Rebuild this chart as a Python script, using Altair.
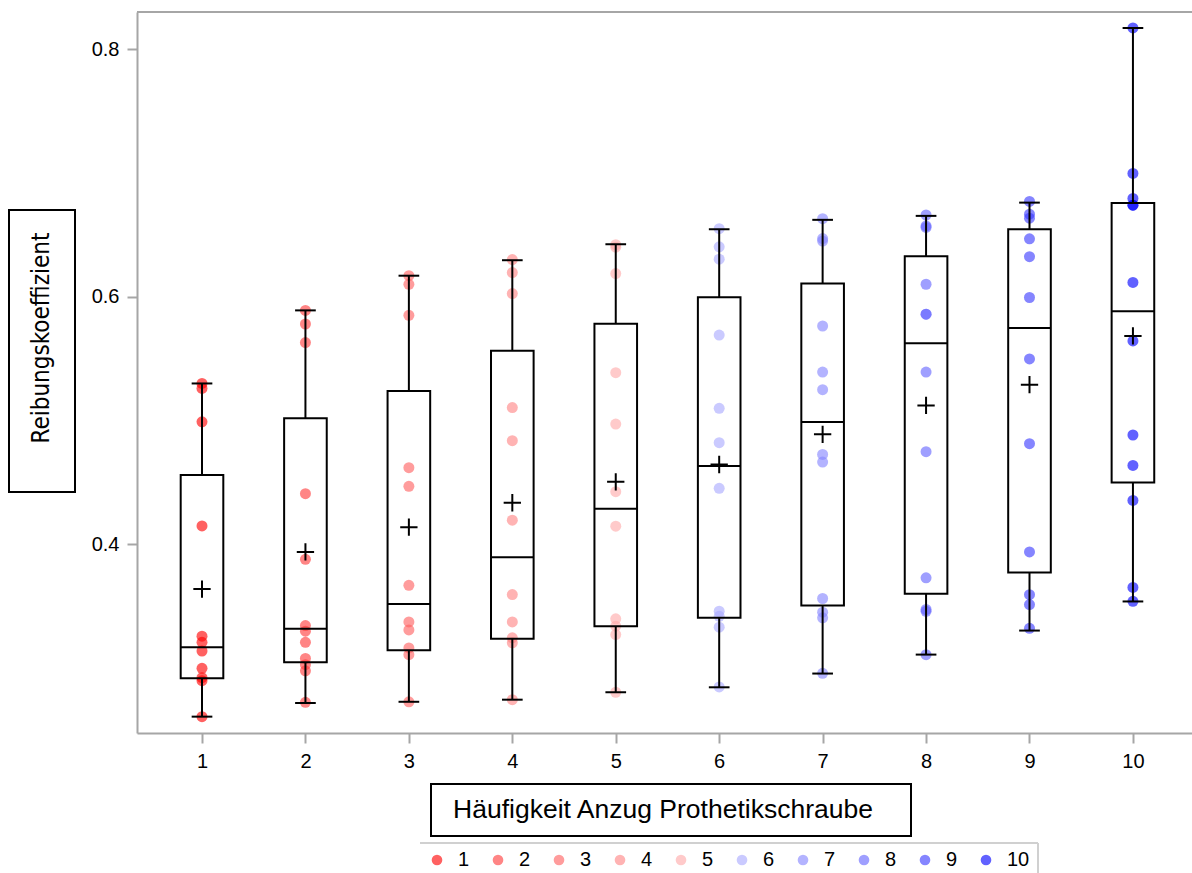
import altair as alt
import pandas as pd

# ---- data ----
groups = ["1", "2", "3", "4", "5", "6", "7", "8", "9", "10"]
colors = ["#ff0000", "#ff3a3a", "#ff5f5f", "#ff8484", "#ffaaaa",
          "#aaaaff", "#8484ff", "#6464ff", "#3a3aff", "#0000ff"]

g1 = [0.530, 0.526, 0.499, 0.415, 0.326, 0.321, 0.314, 0.300, 0.2925, 0.290, 0.261]
g2 = [0.589, 0.578, 0.563, 0.441, 0.388, 0.3345, 0.330, 0.321, 0.308, 0.303, 0.298, 0.2726]
g3 = [0.617, 0.610, 0.585, 0.462, 0.447, 0.367, 0.3375, 0.331, 0.3165, 0.311, 0.273]
g4 = [0.630, 0.6195, 0.6026, 0.5105, 0.4838, 0.4196, 0.3596, 0.3375, 0.3246, 0.3206, 0.2747]
g5 = [0.642, 0.640, 0.6187, 0.5387, 0.4972, 0.4426, 0.4148, 0.340, 0.334, 0.3273, 0.2807]
g6 = [0.655, 0.6403, 0.6303, 0.5691, 0.5099, 0.4822, 0.4453, 0.3461, 0.342, 0.3332, 0.285]
g7 = [0.663, 0.647, 0.645, 0.5764, 0.5392, 0.525, 0.4727, 0.4665, 0.3564, 0.3453, 0.3408, 0.296]
g8 = [0.666, 0.6572, 0.656, 0.6101, 0.5859, 0.5859, 0.5392, 0.4749, 0.3731, 0.3475, 0.346, 0.311]
g9 = [0.677, 0.6667, 0.6634, 0.6468, 0.6324, 0.5994, 0.5498, 0.4814, 0.394, 0.3595, 0.3515, 0.3323]
g10 = [0.817, 0.6996, 0.6794, 0.6739, 0.6739, 0.6116, 0.5643, 0.4884, 0.4638, 0.4356, 0.3653, 0.3541]
series = [g1, g2, g3, g4, g5, g6, g7, g8, g9, g10]

q1 = [0.292, 0.305, 0.3146, 0.3238, 0.334, 0.3408, 0.3507, 0.3602, 0.3774, 0.450]
med = [0.317, 0.332, 0.352, 0.3897, 0.4288, 0.4633, 0.4988, 0.5624, 0.5748, 0.5883]
q3 = [0.456, 0.502, 0.524, 0.5565, 0.5783, 0.5996, 0.6107, 0.6327, 0.6545, 0.6756]
lo = [0.261, 0.272, 0.273, 0.2747, 0.2807, 0.2847, 0.2958, 0.3111, 0.3305, 0.354]
hi = [0.530, 0.589, 0.617, 0.6295, 0.6424, 0.6545, 0.6621, 0.6653, 0.676, 0.817]
mean = [0.364, 0.394, 0.414, 0.4337, 0.4506, 0.4646, 0.4889, 0.5123, 0.529, 0.5684]

x_title = "Häufigkeit Anzug Prothetikschraube"
y_title = "Reibungskoeffizient"

# ---- tables ----
pts = pd.DataFrame(
    [{"g": i + 1, "Gruppe": groups[i], "v": v} for i, s in enumerate(series) for v in s]
)
BW = 0.206
CW = 0.1
stats = pd.DataFrame({
    "g": list(range(1, 11)), "q1": q1, "med": med, "q3": q3,
    "lo": lo, "hi": hi, "mean": mean,
})
stats["xl"] = stats["g"] - BW
stats["xr"] = stats["g"] + BW
stats["cl"] = stats["g"] - CW
stats["cr"] = stats["g"] + CW

W, H = 1055, 721
xs = alt.Scale(domain=[0.3716, 10.571], nice=False, zero=False)
ys = alt.Scale(domain=[0.2478, 0.8299], nice=False, zero=False)
GRAY = "#a6a6a6"
FONT = "Liberation Sans, Arial, sans-serif"

xaxis = alt.Axis(values=list(range(1, 11)), format="d", title=None, grid=False,
                 labelFontSize=20, labelFont=FONT, labelColor="black",
                 tickSize=10, tickColor=GRAY, tickWidth=2, domainColor=GRAY,
                 domainWidth=2, labelPadding=8, labelFlush=False)
yaxis = alt.Axis(values=[0.4, 0.6, 0.8], format=".1f", title=None, grid=False,
                 labelFontSize=20, labelFont=FONT, labelColor="black",
                 tickSize=10, tickColor=GRAY, tickWidth=2, domainColor=GRAY,
                 domainWidth=2, labelPadding=8, labelFlush=False)


def X(f):
    return alt.X(f, scale=xs, axis=xaxis)


def Y(f):
    return alt.Y(f, scale=ys, axis=yaxis)


points = alt.Chart(pts).mark_circle(size=121, opacity=0.62).encode(
    x=X("g:Q"),
    y=Y("v:Q"),
    color=alt.Color("Gruppe:N", sort=groups,
                    scale=alt.Scale(domain=groups, range=colors),
                    legend=alt.Legend(title=None, orient="none", direction="horizontal",
                                      columns=10, legendX=290, legendY=838,
                                      symbolType="circle", symbolSize=114,
                                      symbolOpacity=0.62, symbolStrokeWidth=0,
                                      labelFontSize=20, labelFont=FONT,
                                      labelColor="black", labelOffset=11,
                                      columnPadding=18, padding=0)),
)

base = alt.Chart(stats)
whisk_lo = base.mark_rule(color="black", strokeWidth=2).encode(
    x=X("g:Q"), y=Y("lo:Q"), y2="q1:Q")
whisk_hi = base.mark_rule(color="black", strokeWidth=2).encode(
    x=X("g:Q"), y=Y("q3:Q"), y2="hi:Q")
cap_lo = base.mark_rule(color="black", strokeWidth=2).encode(
    x=X("cl:Q"), x2="cr:Q", y=Y("lo:Q"))
cap_hi = base.mark_rule(color="black", strokeWidth=2).encode(
    x=X("cl:Q"), x2="cr:Q", y=Y("hi:Q"))
box = base.mark_rect(fill="white", fillOpacity=0, stroke="black", strokeWidth=2).encode(
    x=X("xl:Q"), x2="xr:Q", y=Y("q1:Q"), y2="q3:Q")
median = base.mark_rule(color="black", strokeWidth=2).encode(
    x=X("xl:Q"), x2="xr:Q", y=Y("med:Q"))
mean_mk = base.mark_point(shape="M-1,0L1,0M0,-1L0,1", size=300, filled=False,
                          stroke="black", strokeWidth=2, opacity=1).encode(
    x=X("g:Q"), y=Y("mean:Q"))

one = alt.Data(values=[{"a": 1}])
top_border = alt.Chart(one).mark_rule(color=GRAY, strokeWidth=2).encode(
    x=alt.value(0), x2=alt.value(W), y=alt.value(0))
leg_top = alt.Chart(one).mark_rule(color="#d0d0d0", strokeWidth=2).encode(
    x=alt.value(283), x2=alt.value(901), y=alt.value(831))
leg_right = alt.Chart(one).mark_rule(color="#d0d0d0", strokeWidth=2).encode(
    x=alt.value(901), y=alt.value(831), y2=alt.value(865))

ybox = alt.Chart(one).mark_rect(fill="white", stroke="black", strokeWidth=2).encode(
    x=alt.value(-128), x2=alt.value(-62), y=alt.value(198), y2=alt.value(480))
ytext = alt.Chart(one).mark_text(text=y_title, angle=270, fontSize=24,
                                 font="Liberation Sans Narrow, DejaVu Sans Condensed, sans-serif",
                                 color="black", align="center", baseline="middle").encode(
    x=alt.value(-95), y=alt.value(326))
xbox = alt.Chart(one).mark_rect(fill="white", stroke="black", strokeWidth=2).encode(
    x=alt.value(294), x2=alt.value(774), y=alt.value(772), y2=alt.value(824))
xtext = alt.Chart(one).mark_text(text=x_title, fontSize=26.5, font=FONT, color="black",
                                 align="center", baseline="middle").encode(
    x=alt.value(526), y=alt.value(798))

chart = alt.layer(
    points, whisk_lo, whisk_hi, cap_lo, cap_hi, box, median, mean_mk,
    top_border, leg_top, leg_right, ybox, ytext, xbox, xtext,
).properties(
    width=W, height=H,
    padding={"left": 137, "top": 12, "right": 0, "bottom": 140},
    autosize=alt.AutoSizeParams(type="none"),
    background="white",
).configure_view(stroke="transparent")

chart.save("out.html", embed_options={"renderer": "svg", "actions": False})
